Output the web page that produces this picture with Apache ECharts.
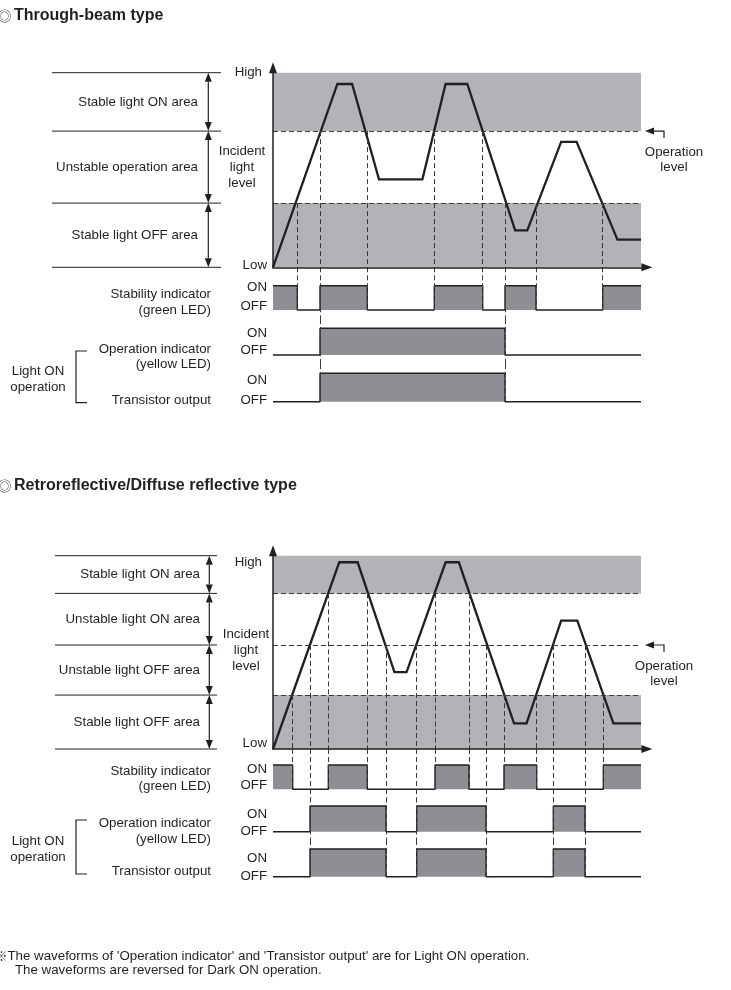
<!DOCTYPE html>
<html>
<head>
<meta charset="utf-8">
<script src="https://cdn.jsdelivr.net/npm/echarts@6/dist/echarts.min.js"></script>
<style>html,body{margin:0;padding:0;background:#fff}#c{width:731px;height:990px}</style>
</head>
<body>
<div id="c"></div>
<script>
// ================= DATA =================
// --- Through-beam type ---
const tbTitle = 'Through-beam type';
const tbWaveTime  = [0, 17.5, 21.5, 28.8, 40.6, 46.9, 52.8, 65.8, 69.1, 78.3, 82.5, 93.6, 100];
const tbWaveLevel = [0, 94.2, 94.2, 45.2, 45.2, 94.2, 94.2, 19.0, 19.0, 64.5, 64.5, 14.2, 14.2];
const tbAreaBounds = [100, 70, 33, 0];
const tbAreaNames = ['Stable light ON area', 'Unstable operation area', 'Stable light OFF area'];
const tbStableBands = [[70, 100], [0, 33]];
const tbThresholds = [70, 33];
const tbOperationLevel = 70;
const tbCrossTime  = [6.6, 12.77, 25.63, 43.83, 56.98, 63.04, 71.47, 89.59];
const tbCrossLevel = [33, 70, 70, 70, 70, 33, 33, 33];
const tbOutputEdge = [false, true, false, false, false, true, false, false];
const tbStabTime  = [0, 6.6, 12.77, 25.63, 43.83, 56.98, 63.04, 71.47, 89.59, 100];
const tbStabState = [1, 0, 1, 0, 1, 0, 1, 0, 1, 1];
const tbOpTime  = [0, 12.77, 63.04, 100];
const tbOpState = [0, 1, 0, 0];
const tbTrTime  = [0, 12.77, 63.04, 100];
const tbTrState = [0, 1, 0, 0];

// --- Retroreflective / Diffuse reflective type ---
const rrTitle = 'Retroreflective/Diffuse reflective type';
const rrWaveTime  = [0, 18.0, 23.0, 33.0, 36.3, 46.9, 50.5, 65.5, 68.9, 78.3, 82.7, 92.5, 100];
const rrWaveLevel = [0, 96.6, 96.6, 39.8, 39.8, 96.6, 96.6, 13.3, 13.3, 66.4, 66.4, 13.3, 13.3];
const rrAreaBounds = [100, 80.5, 53.8, 27.9, 0];
const rrAreaNames = ['Stable light ON area', 'Unstable light ON area', 'Unstable light OFF area', 'Stable light OFF area'];
const rrStableBands = [[80.5, 100], [0, 27.9]];
const rrThresholds = [80.5, 53.8, 27.9];
const rrOperationLevel = 53.8;
const rrCrossTime  = [5.35, 10.05, 15.03, 25.63, 30.71, 39.05, 44.02, 53.26, 57.88, 62.77, 71.66, 76.17, 84.78, 89.76];
const rrCrossLevel = [27.9, 53.8, 80.5, 80.5, 53.8, 53.8, 80.5, 80.5, 53.8, 27.9, 27.9, 53.8, 53.8, 27.9];
const rrOutputEdge = [false, true, false, false, true, true, false, false, true, false, false, true, true, false];
const rrStabTime  = [0, 5.35, 15.03, 25.63, 44.02, 53.26, 62.77, 71.66, 89.76, 100];
const rrStabState = [1, 0, 1, 0, 1, 0, 1, 0, 1, 1];
const rrOpTime  = [0, 10.05, 30.71, 39.05, 57.88, 76.17, 84.78, 100];
const rrOpState = [0, 1, 0, 1, 0, 1, 0, 0];
const rrTrTime  = [0, 10.05, 30.71, 39.05, 57.88, 76.17, 84.78, 100];
const rrTrState = [0, 1, 0, 1, 0, 1, 0, 0];

// --- shared labels ---
const levelTickLabels = ['High', 'Low'];
const stateTickLabels = ['ON', 'OFF'];
const levelAxisName = 'Incident\nlight\nlevel';
const operationLevelName = 'Operation\nlevel';
const rowNames = ['Stability indicator\n(green LED)', 'Operation indicator\n(yellow LED)', 'Transistor output'];
const groupName = 'Light ON\noperation';
const footnoteMark = '※';
const footnoteLines = ["The waveforms of 'Operation indicator' and 'Transistor output' are for Light ON operation.",
                       'The waveforms are reversed for Dark ON operation.'];

// ================= LAYOUT / STYLE =================
const INK = '#231f20', BAND = '#b2b3b7', FILL = '#8e8f95', DASH = '#3a3a3a';
const FONT = '"Liberation Sans", Arial, sans-serif';
const CJK = '"Noto Sans CJK JP", sans-serif';
const FS = 13.3;
const GRID_LEFT = 273, T_PX = 3.68, T_MAX = 101.6, L_MAX = 102.5;
const LAYOUT = {
  tb: { titleY: 15.7, base: 267.3, top100: 72.7, highY: 72.4, lowY: 265, nameGap: 31,
        ann: { x1: 52, x2: 221, arrowX: 208.3, labelRight: 198 },
        opText: { x: 674, dy: 28.5 },
        rows: [ { top: 267.3, on: 285.7, off: 310,   bottom: 319,   onLab: 287,   offLab: 306 },
                { top: 319,   on: 328.3, off: 355,   bottom: 364,   onLab: 333.5, offLab: 350.5 },
                { top: 364,   on: 373.3, off: 401.7, bottom: 404.5, onLab: 380.5, offLab: 400 } ],
        rowText: [302.2, 356.7, 400], group: { y: 379.2, bTop: 351, bBot: 402.7 } },
  rr: { titleY: 486, base: 749, top100: 555.7, highY: 562, lowY: 743, nameGap: 27,
        ann: { x1: 55, x2: 217, arrowX: 209.3, labelRight: 200 },
        opText: { x: 664, dy: 29 },
        rows: [ { top: 749,   on: 765, off: 789.3, bottom: 797.5, onLab: 769.5, offLab: 785 },
                { top: 797.5, on: 806, off: 831.7, bottom: 840,   onLab: 814,   offLab: 831 },
                { top: 840,   on: 849, off: 876.7, bottom: 879.5, onLab: 858.7, offLab: 876 } ],
        rowText: [778.7, 831, 871.7], group: { y: 849.5, bTop: 820, bBot: 874 } }
};

const DIAGRAMS = [
  { lay: LAYOUT.tb, title: tbTitle, waveT: tbWaveTime, waveL: tbWaveLevel, bounds: tbAreaBounds, names: tbAreaNames,
    bands: tbStableBands, thr: tbThresholds, opLevel: tbOperationLevel, crossT: tbCrossTime, crossL: tbCrossLevel,
    deep: tbOutputEdge, rows: [[tbStabTime, tbStabState], [tbOpTime, tbOpState], [tbTrTime, tbTrState]] },
  { lay: LAYOUT.rr, title: rrTitle, waveT: rrWaveTime, waveL: rrWaveLevel, bounds: rrAreaBounds, names: rrAreaNames,
    bands: rrStableBands, thr: rrThresholds, opLevel: rrOperationLevel, crossT: rrCrossTime, crossL: rrCrossLevel,
    deep: rrOutputEdge, rows: [[rrStabTime, rrStabState], [rrOpTime, rrOpState], [rrTrTime, rrTrState]] }
];

// ================= OPTION =================
const zip = (a, b) => a.map((v, i) => [v, b[i]]);
const EPS = 1e-6;
const grids = [], xAxes = [], yAxes = [], series = [];
const dashLine = { type: [5, 3], color: DASH, width: 1 };
function markLineOf(data, style) {
  return { silent: true, symbol: ['none', 'none'], animation: false, label: { show: false },
           emphasis: { disabled: true }, lineStyle: style, data: data };
}

DIAGRAMS.forEach(D => {
  const lay = D.lay;
  const pxL = (lay.base - lay.top100) / 100;
  const g = grids.length;
  D.waveGrid = g;
  grids.push({ left: GRID_LEFT, width: T_MAX * T_PX, top: lay.base - L_MAX * pxL, height: L_MAX * pxL, outerBoundsMode: 'none' });
  xAxes.push({ type: 'value', gridIndex: g, min: 0, max: T_MAX, z: 10,
    axisLine: { show: true, lineStyle: { color: INK, width: 1.5 }, symbol: ['none', 'triangle'], symbolSize: [8, 11] },
    axisTick: { show: false }, axisLabel: { show: false }, splitLine: { show: false } });
  yAxes.push({ type: 'value', gridIndex: g, min: 0, max: L_MAX, z: 10,
    axisLine: { show: true, onZero: false, lineStyle: { color: INK, width: 1.5 }, symbol: ['none', 'triangle'], symbolSize: [8, 11] },
    axisTick: { show: false }, splitLine: { show: false },
    axisLabel: { customValues: [(lay.base - lay.highY) / pxL, (lay.base - lay.lowY) / pxL],
      formatter: v => v > 50 ? '{h|' + levelTickLabels[0] + '}' : '{l|' + levelTickLabels[1] + '}',
      margin: 6, color: INK, fontSize: FS, fontFamily: FONT,
      rich: { h: { padding: [0, 5, 0, 0], fontSize: FS, color: INK, fontFamily: FONT },
              l: { fontSize: FS, color: INK, fontFamily: FONT } } },
    name: levelAxisName, nameLocation: 'middle', nameRotate: 0, nameGap: lay.nameGap, nameMoveOverlap: false,
    nameTextStyle: { align: 'center', verticalAlign: 'middle', lineHeight: 16, fontSize: FS, color: INK, fontFamily: FONT } });

  // bands
  series.push({ type: 'line', xAxisIndex: g, yAxisIndex: g, data: [], z: 1, silent: true, animation: false,
    markArea: { silent: true, animation: false, label: { show: false }, itemStyle: { color: BAND },
      data: D.bands.map(b => [{ coord: [0, b[0]] }, { coord: [100, b[1]] }]) } });
  // threshold + crossing dashes
  const waveDashes = D.thr.map(v => [{ coord: [0, v] }, { coord: [100, v] }])
    .concat(D.crossT.map((t, i) => [{ coord: [t, D.crossL[i]] }, { coord: [t, 0] }]));
  series.push({ type: 'line', xAxisIndex: g, yAxisIndex: g, data: [], z: 2, silent: true, animation: false,
    markLine: markLineOf(waveDashes, dashLine) });
  // incident light waveform
  series.push({ type: 'line', xAxisIndex: g, yAxisIndex: g, data: zip(D.waveT, D.waveL), z: 3, silent: true,
    symbol: 'none', showSymbol: false, animation: false, lineStyle: { color: INK, width: 2.3, join: 'miter' } });

  // timing rows
  lay.rows.forEach((R, ri) => {
    const rg = grids.length;
    const px = R.off - R.on;
    const ymax = (R.off - R.top) / px, ymin = -(R.bottom - R.off) / px;
    grids.push({ left: GRID_LEFT, width: T_MAX * T_PX, top: R.top, height: R.bottom - R.top, outerBoundsMode: 'none' });
    xAxes.push({ type: 'value', gridIndex: rg, min: 0, max: T_MAX, show: false });
    yAxes.push({ type: 'value', gridIndex: rg, min: ymin, max: ymax,
      axisLine: { show: false }, axisTick: { show: false }, splitLine: { show: false },
      axisLabel: { customValues: [(R.off - R.onLab) / px, (R.off - R.offLab) / px],
        formatter: v => v > 0.5 ? stateTickLabels[0] : stateTickLabels[1],
        margin: 6, color: INK, fontSize: FS, fontFamily: FONT } });
    const dashes = [];
    D.crossT.forEach((t, i) => {
      const deep = D.deep[i];
      if (ri === 0) dashes.push([{ coord: [t, ymax - EPS] }, { coord: [t, deep ? ymin + EPS : 0] }]);
      else if (ri === 1 && deep) dashes.push([{ coord: [t, ymax - EPS] }, { coord: [t, ymin + EPS] }]);
      else if (ri === 2 && deep) dashes.push([{ coord: [t, ymax - EPS] }, { coord: [t, 0] }]);
    });
    series.push({ type: 'line', xAxisIndex: rg, yAxisIndex: rg, step: 'end', data: zip(D.rows[ri][0], D.rows[ri][1]),
      z: 2, silent: true, symbol: 'none', showSymbol: false, animation: false,
      lineStyle: { color: INK, width: 1.4 }, areaStyle: { color: FILL, opacity: 1 },
      markLine: markLineOf(dashes, dashLine) });
  });
});

const chart = echarts.init(document.getElementById('c'), null, { renderer: 'canvas' });
chart.setOption({ animation: false, backgroundColor: '#fff', grid: grids, xAxis: xAxes, yAxis: yAxes, series: series });

// ================= ANNOTATIONS =================
function font(size, weight, fam) { return (weight ? weight + ' ' : '') + size + 'px ' + (fam || FONT); }
function text(x, y, s, o) {
  o = o || {};
  const al = o.align || 'left';
  return { type: 'text', x: x, y: y, silent: true, z: 10,
    style: { text: s, fill: o.fill || INK, font: font(o.size || FS, o.weight, o.family),
      align: al, textAlign: al, verticalAlign: 'middle', textVerticalAlign: 'middle', lineHeight: o.lineHeight || 15 } };
}
function seg(x1, y1, x2, y2, w) {
  return { type: 'line', silent: true, shape: { x1: x1, y1: y1, x2: x2, y2: y2 }, style: { stroke: INK, lineWidth: w || 1 } };
}
function tri(pts) { return { type: 'polygon', silent: true, shape: { points: pts }, style: { fill: INK } }; }
function vArrow(x, yTop, yBot) {
  const h = 9, w = 3.5;
  return [ seg(x, yTop + h, x, yBot - h, 1.2),
           tri([[x, yTop], [x - w, yTop + h], [x + w, yTop + h]]),
           tri([[x, yBot], [x - w, yBot - h], [x + w, yBot - h]]) ];
}

const els = [];
DIAGRAMS.forEach(D => {
  const lay = D.lay, g = D.waveGrid;
  const pix = (t, L) => chart.convertToPixel({ xAxisIndex: g, yAxisIndex: g }, [t, L]);
  els.push(text(11.5, lay.titleY, '◎', { size: 14, align: 'right', family: CJK, fill: '#444' }));
  els.push(text(14, lay.titleY, D.title, { size: 16, weight: 'bold' }));
  const ys = D.bounds.map(L => pix(0, L)[1]);
  ys.forEach(y => els.push(seg(lay.ann.x1, y, lay.ann.x2, y, 1)));
  for (let i = 0; i < ys.length - 1; i++) {
    vArrow(lay.ann.arrowX, ys[i], ys[i + 1]).forEach(e => els.push(e));
    els.push(text(lay.ann.labelRight, (ys[i] + ys[i + 1]) / 2, D.names[i], { align: 'right' }));
  }
  const p = pix(100, D.opLevel);
  const tipX = p[0] + 4, baseX = tipX + 9, cornerX = tipX + 19, yo = p[1];
  els.push(tri([[tipX, yo], [baseX, yo - 3.5], [baseX, yo + 3.5]]));
  els.push({ type: 'polyline', silent: true, shape: { points: [[baseX, yo], [cornerX, yo], [cornerX, yo + 7]] },
             style: { stroke: INK, lineWidth: 1.2, fill: null } });
  els.push(text(lay.opText.x, yo + lay.opText.dy, operationLevelName, { align: 'center', lineHeight: 15 }));
  lay.rowText.forEach((y, i) => els.push(text(211, y, rowNames[i], { align: 'right', lineHeight: 15.7 })));
  els.push(text(38, lay.group.y, groupName, { align: 'center', lineHeight: 15.5 }));
  els.push({ type: 'polyline', silent: true,
             shape: { points: [[87, lay.group.bTop], [76, lay.group.bTop], [76, lay.group.bBot], [87, lay.group.bBot]] },
             style: { stroke: INK, lineWidth: 1.2, fill: null } });
});
els.push(text(7.5, 956.7, footnoteMark, { size: 12, align: 'right', family: CJK }));
els.push(text(7.5, 956.7, footnoteLines[0], { size: FS }));
els.push(text(15, 970.5, footnoteLines[1], { size: FS }));
chart.setOption({ graphic: { elements: els } });
</script>
</body>
</html>
